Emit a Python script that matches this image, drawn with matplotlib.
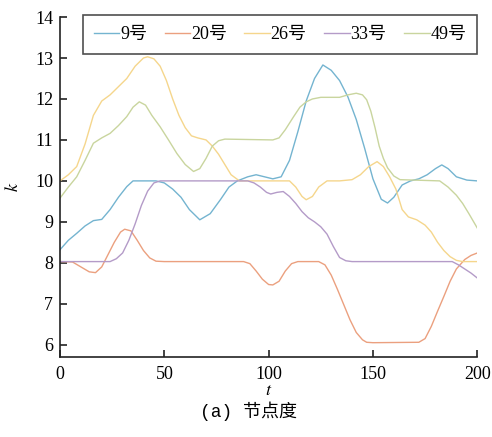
import matplotlib
matplotlib.use("Agg")
import matplotlib.pyplot as plt

plt.rcParams['font.family'] = ['Liberation Serif', 'Noto Sans CJK SC', 'DejaVu Sans']
plt.rcParams['mathtext.fontset'] = 'stix'

# node degree k over time t for five nodes
labels = ["9号", "20号", "26号", "33号", "49号"]
colors = ["#74b4d0", "#eba07f", "#f5d68c", "#b49bc8", "#c9d59e"]

t9 = [0, 4, 8, 12, 16, 20, 24, 28, 32, 35, 40, 46, 50, 54, 58, 62, 67, 72, 77, 81, 85,
      90, 94, 98, 102, 106, 110, 114, 118, 122, 126, 130, 134, 138, 142, 146, 150,
      154, 157, 160, 164, 168, 172, 176, 180, 183, 186, 190, 195, 200]
k9 = [8.32, 8.55, 8.72, 8.9, 9.03, 9.06, 9.3, 9.6, 9.86, 10.0, 10.0, 10.0, 9.95, 9.8,
      9.6, 9.3, 9.05, 9.2, 9.55, 9.85, 10.0, 10.1, 10.15, 10.1, 10.05, 10.1, 10.5,
      11.2, 11.95, 12.5, 12.83, 12.7, 12.45, 12.05, 11.5, 10.8, 10.05, 9.55, 9.46,
      9.6, 9.9, 10.0, 10.05, 10.15, 10.3, 10.39, 10.3, 10.1, 10.02, 10.0]

t20 = [0, 6, 10, 14, 17, 20, 23, 26, 29, 31, 34, 37, 40, 43, 46, 50, 88, 91, 94, 97,
       100, 102, 105, 108, 111, 114, 124, 127, 130, 133, 136, 139, 142, 145, 147,
       150, 172, 175, 178, 181, 184, 187, 190, 194, 197, 200]
k20 = [8.03, 8.02, 7.9, 7.78, 7.76, 7.9, 8.2, 8.5, 8.75, 8.82, 8.78, 8.55, 8.3, 8.12,
       8.04, 8.03, 8.03, 7.98, 7.8, 7.6, 7.47, 7.46, 7.55, 7.8, 7.98, 8.03, 8.03, 7.95,
       7.7, 7.35, 6.98, 6.61, 6.3, 6.12, 6.06, 6.05, 6.06, 6.15, 6.45, 6.82, 7.18,
       7.55, 7.85, 8.08, 8.18, 8.24]

t26 = [0, 4, 8, 12, 16, 20, 24, 28, 32, 36, 40, 42, 45, 48, 51, 54, 57, 60, 63, 66,
       70, 73, 76, 79, 82, 86, 110, 113, 116, 118, 121, 124, 128, 134, 140, 144, 148,
       152, 155, 158, 161, 164, 167, 171, 175, 178, 181, 184, 187, 190, 193, 200]
k26 = [10.0, 10.15, 10.35, 10.9, 11.6, 11.95, 12.1, 12.3, 12.5, 12.8, 13.0, 13.03,
       12.98, 12.8, 12.45, 12.0, 11.6, 11.3, 11.1, 11.05, 11.0, 10.85, 10.65, 10.4,
       10.15, 10.0, 10.0, 9.85, 9.62, 9.54, 9.62, 9.85, 10.0, 10.0, 10.03, 10.15,
       10.35, 10.47, 10.35, 10.1, 9.8, 9.3, 9.12, 9.05, 8.92, 8.75, 8.5, 8.3, 8.15,
       8.06, 8.03, 8.03]

t33 = [0, 24, 27, 30, 33, 36, 39, 42, 45, 48, 90, 93, 96, 99, 101, 104, 107, 110, 113,
       116, 119, 122, 125, 128, 131, 134, 137, 140, 188, 191, 194, 197, 200]
k33 = [8.03, 8.03, 8.1, 8.24, 8.55, 8.95, 9.4, 9.75, 9.95, 10.0, 10.0, 9.95, 9.85,
       9.72, 9.68, 9.72, 9.74, 9.62, 9.45, 9.25, 9.1, 9.0, 8.88, 8.7, 8.4, 8.13, 8.05,
       8.03, 8.03, 7.95, 7.85, 7.75, 7.63]

t49 = [0, 4, 8, 12, 16, 20, 24, 28, 32, 35, 38, 41, 44, 48, 52, 56, 60, 64, 67, 70,
       73, 76, 79, 102, 105, 108, 112, 115, 118, 121, 125, 134, 138, 142, 145, 147,
       149, 151, 153, 155, 157, 160, 163, 182, 186, 190, 193, 196, 200]
k49 = [9.58, 9.85, 10.1, 10.5, 10.92, 11.05, 11.16, 11.35, 11.57, 11.8, 11.93, 11.85,
       11.6, 11.32, 11.0, 10.67, 10.4, 10.23, 10.3, 10.55, 10.85, 10.98, 11.02, 11.0,
       11.05, 11.25, 11.57, 11.8, 11.93, 12.0, 12.04, 12.04, 12.1, 12.14, 12.1, 11.98,
       11.7, 11.3, 10.85, 10.55, 10.32, 10.12, 10.03, 10.0, 9.85, 9.65, 9.45, 9.2,
       8.85]

series = [(t9, k9), (t20, k20), (t26, k26), (t33, k33), (t49, k49)]

fig = plt.figure(figsize=(4.92, 4.37), dpi=100)
ax = fig.add_axes([0.122, 0.183, 0.848, 0.778])

for (t, k), lab, c in zip(series, labels, colors):
    ax.plot(t, k, color=c, lw=1.0, label=lab, solid_joinstyle='round')

ax.set_xlim(0, 200)
ax.set_ylim(5.7, 14)
ax.set_xticks([0, 50, 100, 150, 200])
ax.set_yticks(range(6, 15))
ax.spines['top'].set_visible(False)
ax.spines['right'].set_visible(False)
for s in ('left', 'bottom'):
    ax.spines[s].set_linewidth(1.2)
    ax.spines[s].set_color('#222222')
ax.tick_params(direction='in', length=5, width=1.2, color='#222222', labelsize=13)
ax.tick_params(axis='x', pad=6.5)
ax.tick_params(axis='y', pad=5)

ax.set_xlabel('$t$', fontsize=13, labelpad=-1)
ax.set_ylabel('$k$', fontsize=13, labelpad=9)

leg = ax.legend(loc='lower left', bbox_to_anchor=(0.055, 0.891, 0.945, 0.112),
                mode='expand', ncol=5, fontsize=13, frameon=True, fancybox=False,
                handlelength=1.4, handletextpad=0.05, columnspacing=0.5,
                borderaxespad=0, borderpad=0.6)
leg.get_frame().set_edgecolor('#222222')
leg.get_frame().set_linewidth(1.2)

fig.text(0.505, 0.06, '(a) 节点度', ha='center', va='center', fontsize=13,
         family=['Liberation Mono', 'Noto Sans CJK SC'])

fig.savefig('out.png', dpi=100)
